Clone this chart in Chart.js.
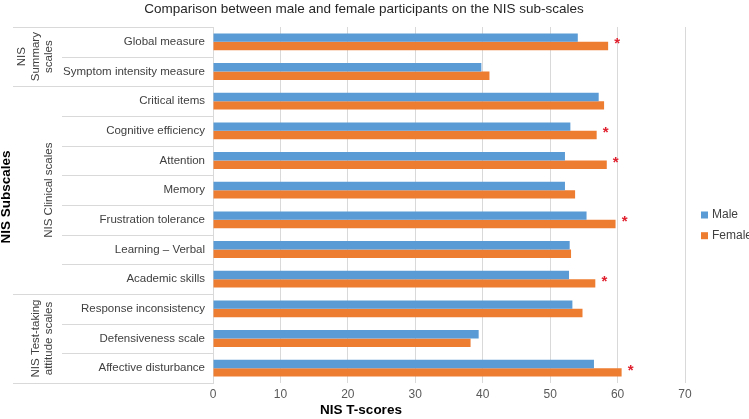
<!DOCTYPE html>
<html>
<head>
<meta charset="utf-8">
<script src="https://cdn.jsdelivr.net/npm/chart.js@4/dist/chart.umd.min.js"></script>
<style>
  html, body { margin: 0; padding: 0; background: #ffffff; }
  #wrap { width: 749px; height: 419px; }
</style>
</head>
<body>
<div id="wrap"><canvas id="c" width="749" height="419"></canvas></div>
<script>
// ---- Data ----
const chartTitle = "Comparison between male and female participants on the NIS sub-scales";
const categories = [
  "Global measure",
  "Symptom intensity measure",
  "Critical items",
  "Cognitive efficiency",
  "Attention",
  "Memory",
  "Frustration tolerance",
  "Learning \u2013 Verbal",
  "Academic skills",
  "Response inconsistency",
  "Defensiveness scale",
  "Affective disturbance"
];
const maleScores   = [54.1, 39.8, 57.2, 53.0, 52.2, 52.2, 55.4, 52.9, 52.8, 53.3, 39.4, 56.5];
const femaleScores = [58.6, 41.0, 58.0, 56.9, 58.4, 53.7, 59.7, 53.1, 56.7, 54.8, 38.2, 60.6];
const significant  = [true, false, false, true, true, false, true, false, true, false, false, true];
const groupLabels  = [["NIS", "Summary", "scales"], ["NIS Clinical scales"], ["NIS Test-taking", "attitude scales"]];
const groupSizes   = [2, 7, 3];
const xTicks       = [0, 10, 20, 30, 40, 50, 60, 70];
const seriesNames  = ["Male", "Female"];
const xAxisTitle   = "NIS T-scores";
const yAxisTitle   = "NIS Subscales";

// ---- Styles ----
const BLUE = "#5B9BD5";
const ORANGE = "#ED7D31";
const GRID = "#d9d9d9";
const FONT = "'Liberation Sans', Arial, Helvetica, sans-serif";

const decorations = {
  id: "decorations",
  afterDraw(chart) {
    const ctx = chart.ctx;
    const ca = chart.chartArea;
    const y = chart.scales.y;
    const x = chart.scales.x;
    ctx.save();

    // Title
    ctx.fillStyle = "#262626";
    ctx.font = "13.5px " + FONT;
    ctx.textAlign = "center";
    ctx.textBaseline = "middle";
    ctx.fillText(chartTitle, 364, 9);

    // Row separators in label area
    const n = categories.length;
    const step = (y.getPixelForValue(n - 1) - y.getPixelForValue(0)) / (n - 1);
    const boundary = i => y.getPixelForValue(0) - step / 2 + i * step;
    const groupEnds = new Set([0]);
    let acc = 0;
    groupSizes.forEach(s => { acc += s; groupEnds.add(acc); });
    ctx.strokeStyle = GRID;
    ctx.lineWidth = 1;
    for (let i = 0; i <= n; i++) {
      const yy = Math.round(boundary(i)) + 0.5;
      const x0 = groupEnds.has(i) ? 13 : 62;
      ctx.beginPath();
      ctx.moveTo(x0, yy);
      ctx.lineTo(ca.left, yy);
      ctx.stroke();
    }

    // Group labels (rotated)
    ctx.fillStyle = "#404040";
    ctx.font = "11.5px " + FONT;
    ctx.textAlign = "center";
    ctx.textBaseline = "middle";
    let start = 0;
    groupLabels.forEach((lines, g) => {
      const end = start + groupSizes[g];
      const cy = (boundary(start) + boundary(end)) / 2;
      lines.forEach((line, j) => {
        const cx = 49 - (lines.length - 1 - j) * 13.5;
        ctx.save();
        ctx.translate(cx, cy);
        ctx.rotate(-Math.PI / 2);
        ctx.fillText(line, 0, 0);
        ctx.restore();
      });
      start = end;
    });

    // Y axis title
    ctx.fillStyle = "#000000";
    ctx.font = "bold 13.5px " + FONT;
    ctx.save();
    ctx.translate(6, 197);
    ctx.rotate(-Math.PI / 2);
    ctx.fillText(yAxisTitle, 0, 0);
    ctx.restore();

    // X axis title
    ctx.font = "bold 13.5px " + FONT;
    ctx.fillText(xAxisTitle, 361, 410);

    // Significance asterisks
    ctx.fillStyle = "#E0202E";
    ctx.font = "bold 15px " + FONT;
    ctx.textAlign = "center";
    ctx.textBaseline = "middle";
    significant.forEach((s, i) => {
      if (!s) return;
      const px = x.getPixelForValue(femaleScores[i]) + 9;
      const py = y.getPixelForValue(i) + 2.5;
      ctx.fillText("*", px, py);
    });

    // Legend
    ctx.font = "12px " + FONT;
    ctx.textAlign = "left";
    ctx.textBaseline = "middle";
    chart.data.datasets.forEach((ds, k) => {
      const cy = 215 + k * 20.7;
      ctx.fillStyle = ds.backgroundColor;
      ctx.fillRect(701, cy - 3.5, 7, 7);
      ctx.fillStyle = "#404040";
      ctx.fillText(ds.label, 712, cy);
    });

    ctx.restore();
  }
};

new Chart(document.getElementById("c"), {
  type: "bar",
  data: {
    labels: categories,
    datasets: [
      { label: seriesNames[0], data: maleScores, backgroundColor: BLUE, borderWidth: 0 },
      { label: seriesNames[1], data: femaleScores, backgroundColor: ORANGE, borderWidth: 0 }
    ]
  },
  options: {
    indexAxis: "y",
    responsive: false,
    animation: false,
    devicePixelRatio: 1,
    layout: { padding: { top: 27, right: 64, bottom: 0, left: 0 } },
    datasets: { bar: { categoryPercentage: 0.57, barPercentage: 1.0 } },
    plugins: {
      legend: { display: false },
      title: { display: false },
      tooltip: { enabled: false }
    },
    scales: {
      x: {
        type: "linear",
        min: 0,
        max: 70,
        afterBuildTicks: s => { s.ticks = xTicks.map(v => ({ value: v })); },
        afterFit: s => { s.height = 36; },
        grid: { color: GRID, drawTicks: false, lineWidth: 1 },
        border: { display: false },
        ticks: { color: "#595959", font: { family: FONT, size: 12 }, padding: 4 }
      },
      y: {
        type: "category",
        afterFit: s => { s.width = 213; },
        grid: { display: false, drawTicks: false },
        border: { display: true, color: GRID },
        ticks: { color: "#404040", font: { family: FONT, size: 11.5 }, padding: 8, autoSkip: false }
      }
    }
  },
  plugins: [decorations]
});
</script>
</body>
</html>
